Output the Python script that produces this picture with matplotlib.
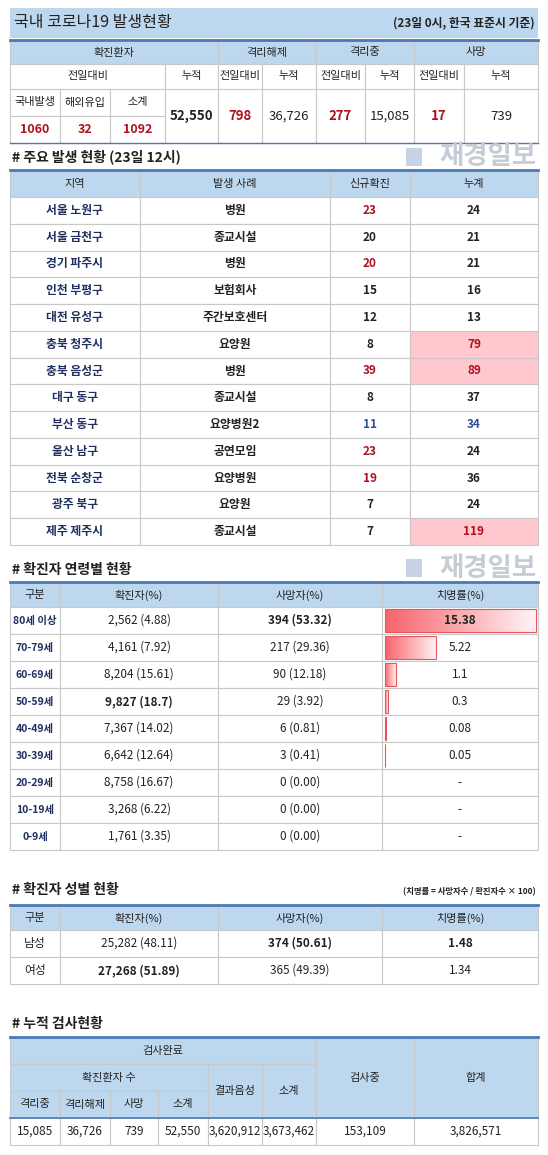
import numpy as np
import matplotlib.pyplot as plt
from matplotlib.patches import Rectangle
from matplotlib.colors import LinearSegmentedColormap

plt.rcParams['font.family'] = ['Noto Sans CJK KR', 'DejaVu Sans']

# data
top_daily = ['1060', '32', '1092']
top_total = '52,550'
release = ['798', '36,726']
isolated = ['277', '15,085']
deaths = ['17', '739']

regions = ['서울 노원구', '서울 금천구', '경기 파주시', '인천 부평구', '대전 유성구', '충북 청주시', '충북 음성군',
           '대구 동구', '부산 동구', '울산 남구', '전북 순창군', '광주 북구', '제주 제주시']
cases = ['병원', '종교시설', '병원', '보험회사', '주간보호센터', '요양원', '병원',
         '종교시설', '요양병원2', '공연모임', '요양병원', '요양원', '종교시설']
new_conf = [23, 20, 20, 15, 12, 8, 39, 8, 11, 23, 19, 7, 7]
new_col = ['r', 'k', 'r', 'k', 'k', 'k', 'r', 'k', 'b', 'r', 'r', 'k', 'k']
cum_conf = [24, 21, 21, 16, 13, 79, 89, 37, 34, 24, 36, 24, 119]
cum_col = ['k', 'k', 'k', 'k', 'k', 'p', 'p', 'k', 'b', 'k', 'k', 'k', 'p']

ages = ['80세 이상', '70-79세', '60-69세', '50-59세', '40-49세', '30-39세', '20-29세', '10-19세', '0-9세']
age_conf = ['2,562 (4.88)', '4,161 (7.92)', '8,204 (15.61)', '9,827 (18.7)', '7,367 (14.02)',
            '6,642 (12.64)', '8,758 (16.67)', '3,268 (6.22)', '1,761 (3.35)']
age_death = ['394 (53.32)', '217 (29.36)', '90 (12.18)', '29 (3.92)', '6 (0.81)',
             '3 (0.41)', '0 (0.00)', '0 (0.00)', '0 (0.00)']
age_cfr = [15.38, 5.22, 1.1, 0.3, 0.08, 0.05, None, None, None]
age_cfr_txt = ['15.38', '5.22', '1.1', '0.3', '0.08', '0.05', '-', '-', '-']

sex = ['남성', '여성']
sex_conf = ['25,282 (48.11)', '27,268 (51.89)']
sex_death = ['374 (50.61)', '365 (49.39)']
sex_cfr = ['1.48', '1.34']

test_vals = ['15,085', '36,726', '739', '52,550', '3,620,912', '3,673,462', '153,109', '3,826,571']

HEAD = '#bdd7ee'
DARK = '#4a7ab5'
LINE = '#c8c8c8'
RED = '#b01020'
BLUE = '#2f4f9a'
TXT = '#222222'

fig = plt.figure(figsize=(5.48, 11.55), dpi=100)
ax = fig.add_axes([0, 0, 1, 1])
ax.set_xlim(0, 548)
ax.set_ylim(1155, 0)
ax.axis('off')


def cell(x0, x1, y0, y1, txt='', fc='white', color=TXT, size=8.5, weight='normal'):
    ax.add_patch(Rectangle((x0, y0), x1 - x0, y1 - y0, facecolor=fc, edgecolor=LINE, lw=0.8))
    if txt:
        ax.text((x0 + x1) / 2, (y0 + y1) / 2, txt, ha='center', va='center', fontsize=size,
                color=color, weight=weight)


def topline(x0, x1, y):
    ax.plot([x0, x1], [y, y], color=DARK, lw=2)


def watermark(y):
    ax.text(536, y, '재경일보', ha='right', va='center', fontsize=19, color='#c5ccd6', weight='bold')
    ax.add_patch(Rectangle((406, y - 9), 16, 18, facecolor='#c5d3e4', edgecolor='none'))


# ---- top table
ax.add_patch(Rectangle((10, 8), 528, 30, facecolor=HEAD, edgecolor='none'))
ax.text(14, 23, '국내 코로나19 발생현황', fontsize=11.5, va='center', color=TXT)
ax.text(535, 23, '(23일 0시, 한국 표준시 기준)', fontsize=8.5, va='center', ha='right', color=TXT, weight='bold')
topline(10, 538, 40)
cell(10, 218, 41, 64, '확진환자', HEAD, size=8)
cell(218, 316, 41, 64, '격리해제', HEAD, size=8)
cell(316, 414, 41, 64, '격리중', HEAD, size=8)
cell(414, 538, 41, 64, '사망', HEAD, size=8)
cell(10, 165, 64, 89, '전일대비', size=8)
for x0, x1, t in [(165, 218, '누적'), (218, 262, '전일대비'), (262, 316, '누적'), (316, 365, '전일대비'),
                  (365, 414, '누적'), (414, 464, '전일대비'), (464, 538, '누적')]:
    cell(x0, x1, 64, 89, t, size=8)
for (x0, x1), h, v in zip([(10, 60), (60, 110), (110, 165)], ['국내발생', '해외유입', '소계'], top_daily):
    cell(x0, x1, 89, 116, h, size=8)
    cell(x0, x1, 116, 143, v, color=RED, weight='bold', size=9)
cell(165, 218, 89, 143, top_total, weight='bold', size=9.5)
for (x0, x1), v, c in zip([(218, 262), (262, 316), (316, 365), (365, 414), (414, 464), (464, 538)],
                          release + isolated + deaths, [RED, TXT] * 3):
    cell(x0, x1, 89, 143, v, color=c, weight='bold' if c == RED else 'normal', size=9.5)
ax.plot([10, 538], [143, 143], color=DARK, lw=1)

# ---- region table
ax.text(12, 157, '# 주요 발생 현황 (23일 12시)', fontsize=10, va='center', color=TXT, weight='bold')
watermark(157)
topline(10, 538, 170)
rx = [(10, 140), (140, 330), (330, 410), (410, 538)]
for (x0, x1), t in zip(rx, ['지역', '발생 사례', '신규확진', '누계']):
    cell(x0, x1, 171, 197, t, HEAD, size=8)
rh = (545 - 197) / len(regions)
for i in range(len(regions)):
    y0 = 197 + i * rh
    y1 = y0 + rh
    cell(*rx[0], y0, y1, regions[i], color='#1f3060', weight='bold', size=8.5)
    cell(*rx[1], y0, y1, cases[i], color=TXT, weight='bold', size=8.5)
    nc = {'r': RED, 'b': BLUE, 'k': TXT}[new_col[i]]
    cell(*rx[2], y0, y1, str(new_conf[i]), color=nc, weight='bold', size=8.5)
    if cum_col[i] == 'p':
        cell(*rx[3], y0, y1, str(cum_conf[i]), fc='#ffc7ce', color=RED, weight='bold', size=8.5)
    else:
        cc = BLUE if cum_col[i] == 'b' else TXT
        cell(*rx[3], y0, y1, str(cum_conf[i]), color=cc, weight='bold', size=8.5)

# ---- age table
ax.text(12, 570, '# 확진자 연령별 현황', fontsize=10, va='center', color=TXT, weight='bold')
watermark(568)
topline(10, 538, 582)
ax_ = [(10, 60), (60, 218), (218, 382), (382, 538)]
for (x0, x1), t in zip(ax_, ['구분', '확진자(%)', '사망자(%)', '치명률(%)']):
    cell(x0, x1, 583, 607, t, HEAD, size=8)
ah = (850 - 607) / len(ages)
grad = np.linspace(0, 1, 256).reshape(1, -1)
cmap = LinearSegmentedColormap.from_list('rw', ['#f8636b', '#fff4f5'])
maxv = max(v for v in age_cfr if v is not None)
for i in range(len(ages)):
    y0 = 607 + i * ah
    y1 = y0 + ah
    cell(*ax_[0], y0, y1, ages[i], color='#1f3060', weight='bold', size=7.5)
    cell(*ax_[1], y0, y1, age_conf[i], weight='bold' if i == 3 else 'normal', size=8.5)
    cell(*ax_[2], y0, y1, age_death[i], weight='bold' if i == 0 else 'normal', size=8.5)
    cell(*ax_[3], y0, y1, '')
    if age_cfr[i] is not None:
        w = age_cfr[i] / maxv * 151
        ax.imshow(grad, cmap=cmap, extent=(385, 385 + w, y1 - 2, y0 + 2), aspect='auto', zorder=2)
        ax.add_patch(Rectangle((385, y0 + 2), w, ah - 4, facecolor='none', edgecolor='#e8545c', lw=0.8, zorder=3))
    ax.text(460, (y0 + y1) / 2, age_cfr_txt[i], ha='center', va='center', fontsize=8.5, color=TXT,
            weight='bold' if i == 0 else 'normal', zorder=4)
ax.set_xlim(0, 548)
ax.set_ylim(1155, 0)

# ---- sex table
ax.text(12, 890, '# 확진자 성별 현황', fontsize=10, va='center', color=TXT, weight='bold')
ax.text(536, 892, '(치명률 = 사망자수 / 확진자수 × 100)', fontsize=6, va='center', ha='right', color=TXT, weight='bold')
topline(10, 538, 905)
for (x0, x1), t in zip(ax_, ['구분', '확진자(%)', '사망자(%)', '치명률(%)']):
    cell(x0, x1, 906, 930, t, HEAD, size=8)
for i in range(2):
    y0 = 930 + i * 27
    cell(*ax_[0], y0, y0 + 27, sex[i], size=8.5)
    cell(*ax_[1], y0, y0 + 27, sex_conf[i], weight='bold' if i == 1 else 'normal', size=8.5)
    cell(*ax_[2], y0, y0 + 27, sex_death[i], weight='bold' if i == 0 else 'normal', size=8.5)
    cell(*ax_[3], y0, y0 + 27, sex_cfr[i], weight='bold' if i == 0 else 'normal', size=8.5)

# ---- tests table
ax.text(12, 1024, '# 누적 검사현황', fontsize=10, va='center', color=TXT, weight='bold')
topline(10, 538, 1037)
tx = [10, 60, 110, 158, 208, 262, 316, 414, 538]
cell(10, 316, 1038, 1064, '검사완료', HEAD, size=8)
cell(10, 208, 1064, 1091, '확진환자 수', HEAD, size=8)
cell(208, 262, 1064, 1118, '결과음성', HEAD, size=8)
cell(262, 316, 1064, 1118, '소계', HEAD, size=8)
cell(316, 414, 1038, 1118, '검사중', HEAD, size=8)
cell(414, 538, 1038, 1118, '합계', HEAD, size=8)
for i, t in enumerate(['격리중', '격리해제', '사망', '소계']):
    cell(tx[i], tx[i + 1], 1091, 1118, t, HEAD, size=8)
ax.plot([10, 538], [1118, 1118], color=DARK, lw=1.2)
for i, v in enumerate(test_vals):
    cell(tx[i], tx[i + 1], 1118, 1145, v, size=8.5)

fig.savefig('out.png', dpi=100)
